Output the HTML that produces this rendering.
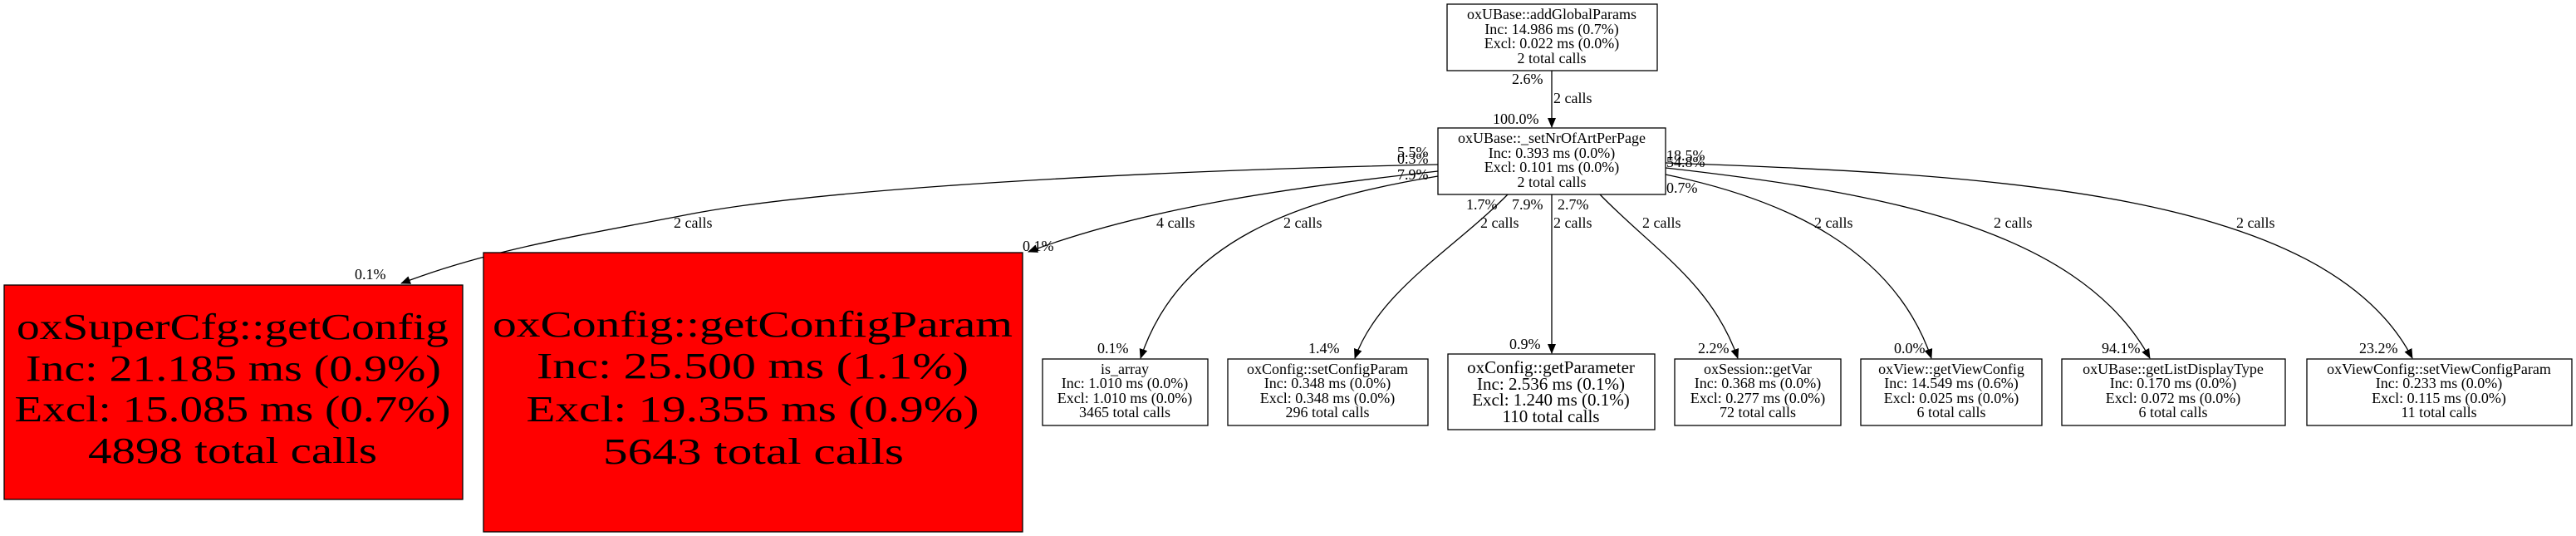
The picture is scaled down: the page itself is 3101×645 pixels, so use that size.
<!DOCTYPE html>
<html><head><meta charset="utf-8"><style>
html,body{margin:0;padding:0;background:#fff;}
svg{display:block;}
text{font-family:"Liberation Serif",serif;fill:#000;}
</style></head><body>
<svg width="3101" height="645" viewBox="0 0 3101 645" xmlns="http://www.w3.org/2000/svg">
<defs>
<marker id="a" markerWidth="12" markerHeight="10" refX="11" refY="5" orient="auto" markerUnits="userSpaceOnUse">
<path d="M0,0 L12,5 L0,10 Z" fill="#000"/></marker>
</defs>
<g fill="none" stroke="#000" stroke-width="1.3">
<path d="M1868,85 L1868,153" marker-end="url(#a)"/>
<path d="M1731,198 C1400,205 1000,225 829,258 C700,283 590,300 483,341" marker-end="url(#a)"/>
<path d="M1731,206 C1550,226 1380,250 1238,303" marker-end="url(#a)"/>
<path d="M1731,212 C1560,240 1420,290 1373,431" marker-end="url(#a)"/>
<path d="M1815,234 C1750,300 1660,350 1631,431" marker-end="url(#a)"/>
<path d="M1868,234 L1868,425" marker-end="url(#a)"/>
<path d="M1926,234 C1990,300 2060,340 2092,431" marker-end="url(#a)"/>
<path d="M2005,210 C2150,240 2280,300 2325,431" marker-end="url(#a)"/>
<path d="M2005,202 C2250,230 2500,270 2588,431" marker-end="url(#a)"/>
<path d="M2005,196 C2400,210 2800,230 2904,431" marker-end="url(#a)"/>
</g>
<g fill="#fff" stroke="#000" stroke-width="1.3">
<rect x="1742" y="5" width="253" height="80"/>
<rect x="1731" y="154" width="274" height="80"/>
<rect x="5" y="343" width="552" height="258" fill="#ff0000"/>
<rect x="582" y="304" width="649" height="336" fill="#ff0000"/>
<rect x="1255" y="432" width="199" height="80"/>
<rect x="1478" y="432" width="241" height="80"/>
<rect x="1743" y="426" width="249" height="91"/>
<rect x="2016" y="432" width="200" height="80"/>
<rect x="2240" y="432" width="218" height="80"/>
<rect x="2482" y="432" width="269" height="80"/>
<rect x="2777" y="432" width="319" height="80"/>
</g>
<g font-size="18" text-anchor="middle">
<text x="1868" y="23">oxUBase::addGlobalParams</text>
<text x="1868" y="41">Inc: 14.986 ms (0.7%)</text>
<text x="1868" y="58">Excl: 0.022 ms (0.0%)</text>
<text x="1868" y="76">2 total calls</text>
<text x="1868" y="172">oxUBase::_setNrOfArtPerPage</text>
<text x="1868" y="190">Inc: 0.393 ms (0.0%)</text>
<text x="1868" y="207">Excl: 0.101 ms (0.0%)</text>
<text x="1868" y="225">2 total calls</text>

<text x="1354" y="450">is_array</text>
<text x="1354" y="467">Inc: 1.010 ms (0.0%)</text>
<text x="1354" y="485">Excl: 1.010 ms (0.0%)</text>
<text x="1354" y="502">3465 total calls</text>
<text x="1598" y="450">oxConfig::setConfigParam</text>
<text x="1598" y="467">Inc: 0.348 ms (0.0%)</text>
<text x="1598" y="485">Excl: 0.348 ms (0.0%)</text>
<text x="1598" y="502">296 total calls</text>
<text x="2116" y="450">oxSession::getVar</text>
<text x="2116" y="467">Inc: 0.368 ms (0.0%)</text>
<text x="2116" y="485">Excl: 0.277 ms (0.0%)</text>
<text x="2116" y="502">72 total calls</text>
<text x="2349" y="450">oxView::getViewConfig</text>
<text x="2349" y="467">Inc: 14.549 ms (0.6%)</text>
<text x="2349" y="485">Excl: 0.025 ms (0.0%)</text>
<text x="2349" y="502">6 total calls</text>
<text x="2616" y="450">oxUBase::getListDisplayType</text>
<text x="2616" y="467">Inc: 0.170 ms (0.0%)</text>
<text x="2616" y="485">Excl: 0.072 ms (0.0%)</text>
<text x="2616" y="502">6 total calls</text>
<text x="2936" y="450">oxViewConfig::setViewConfigParam</text>
<text x="2936" y="467">Inc: 0.233 ms (0.0%)</text>
<text x="2936" y="485">Excl: 0.115 ms (0.0%)</text>
<text x="2936" y="502">11 total calls</text>
</g>
<g font-size="21" text-anchor="middle">
<text x="1867" y="449">oxConfig::getParameter</text>
<text x="1867" y="469">Inc: 2.536 ms (0.1%)</text>
<text x="1867" y="488">Excl: 1.240 ms (0.1%)</text>
<text x="1867" y="508">110 total calls</text>
</g>
<g font-size="44" text-anchor="middle">
<text x="280" y="408" textLength="520" lengthAdjust="spacingAndGlyphs">oxSuperCfg::getConfig</text>
<text x="281" y="458" textLength="500" lengthAdjust="spacingAndGlyphs">Inc: 21.185 ms (0.9%)</text>
<text x="280" y="507" textLength="525" lengthAdjust="spacingAndGlyphs">Excl: 15.085 ms (0.7%)</text>
<text x="280" y="557" textLength="348" lengthAdjust="spacingAndGlyphs">4898 total calls</text>
<text x="906" y="405" textLength="626" lengthAdjust="spacingAndGlyphs">oxConfig::getConfigParam</text>
<text x="906" y="455" textLength="520" lengthAdjust="spacingAndGlyphs">Inc: 25.500 ms (1.1%)</text>
<text x="906" y="507" textLength="545" lengthAdjust="spacingAndGlyphs">Excl: 19.355 ms (0.9%)</text>
<text x="907" y="558" textLength="362" lengthAdjust="spacingAndGlyphs">5643 total calls</text>
</g>
<g font-size="18">
<text x="1820" y="101">2.6%</text>
<text x="1870" y="124">2 calls</text>
<text x="1797" y="149">100.0%</text>
<text x="1682" y="189">5.5%</text>
<text x="1682" y="197">0.3%</text>
<text x="1682" y="216">7.9%</text>
<text x="2006" y="193">18.5%</text>
<text x="2006" y="201">54.8%</text>
<text x="2006" y="232">0.7%</text>
<text x="1765" y="252">1.7%</text>
<text x="1820" y="252">7.9%</text>
<text x="1875" y="252">2.7%</text>
<text x="811" y="274">2 calls</text>
<text x="1392" y="274">4 calls</text>
<text x="1545" y="274">2 calls</text>
<text x="1782" y="274">2 calls</text>
<text x="1870" y="274">2 calls</text>
<text x="1977" y="274">2 calls</text>
<text x="2184" y="274">2 calls</text>
<text x="2400" y="274">2 calls</text>
<text x="2692" y="274">2 calls</text>
<text x="427" y="336">0.1%</text>
<text x="1231" y="302">0.1%</text>
<text x="1321" y="425">0.1%</text>
<text x="1575" y="425">1.4%</text>
<text x="1817" y="420">0.9%</text>
<text x="2044" y="425">2.2%</text>
<text x="2280" y="425">0.0%</text>
<text x="2530" y="425">94.1%</text>
<text x="2840" y="425">23.2%</text>
</g>
</svg>
</body></html>
